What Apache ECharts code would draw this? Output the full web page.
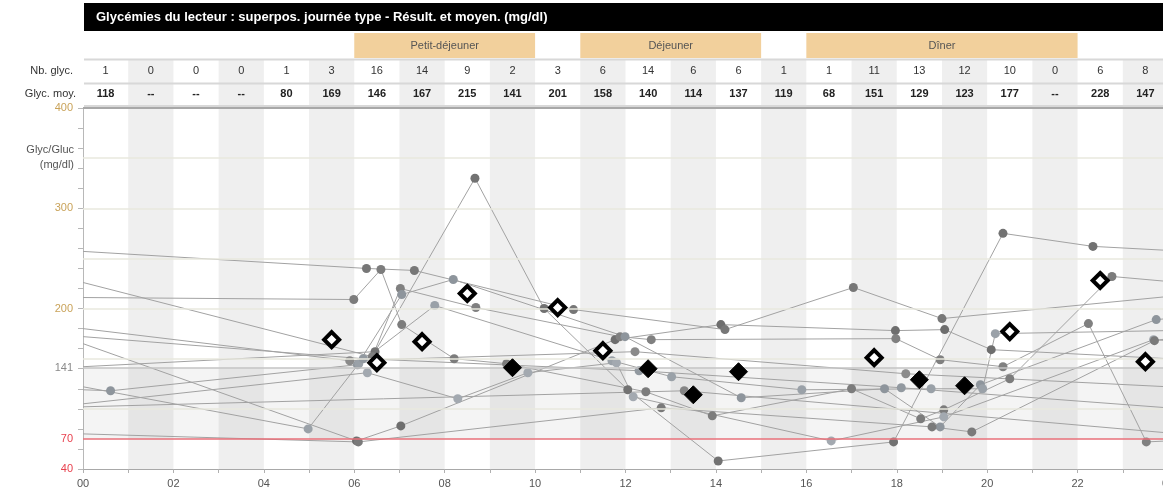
<!DOCTYPE html>
<html>
<head>
<meta charset="utf-8">
<script src="https://cdn.jsdelivr.net/npm/echarts@6/dist/echarts.min.js"></script>
<style>
  html, body { margin: 0; padding: 0; background: #ffffff; overflow: hidden; }
  #chart { width: 1163px; height: 498px; }
</style>
</head>
<body>
<div id="chart"></div>
<script>
// ---- Hourly summary (one entry per hour 00..23) ----
const hours = [0,1,2,3,4,5,6,7,8,9,10,11,12,13,14,15,16,17,18,19,20,21,22,23];
const readingCounts = [1,0,0,0,1,3,16,14,9,2,3,6,14,6,6,1,1,11,13,12,10,0,6,8];
const hourlyMeans = [118,null,null,null,80,169,146,167,215,141,201,158,140,114,137,119,68,151,129,123,177,null,228,147];

// ---- Meal periods shown above the grid ----
const mealNames = ['Petit-déjeuner', 'Déjeuner', 'Dîner'];
const mealStart = [6, 11, 16];
const mealEnd = [10, 15, 22];

// ---- Axis labels / reference values ----
const yLabelValues = [40, 70, 141, 200, 300, 400];
const targetLow = 70;
const targetHigh = 141;
const guideValues = [100, 150, 200, 250, 300, 350];
const rowLabels = ['Nb. glyc.', 'Glyc. moy.'];
const titleText = 'Glycémies du lecteur : superpos. journée type - Résult. et moyen. (mg/dl)';

// ---- Daily traces [hour, mg/dl]; first and last entries are the midnight joins ----
const day01 = [[0,165],[6.05,68],[7.03,83],[11.77,169],[14.11,184],[17.97,178],[19.06,179],[20.09,159],[24,150]];
const day02 = [[0,257],[6.27,240],[7.33,238],[10.85,199],[14.2,179],[17.04,221],[19.0,190],[24,212]];
const day03 = [[0,142],[6.46,157],[8.67,330],[10.2,200],[12.05,119],[14.05,48],[17.93,67],[20.35,275],[22.34,262],[24,258]];
const day04 = [[0,211],[5.99,209],[6.59,239],[7.05,184],[8.21,150],[9.37,145],[12.45,117],[13.92,93],[17.0,120],[18.53,90],[19.04,99],[20.5,130],[22.76,232],[24,227]];
const day05 = [[0,226],[6.4,152],[7.02,220],[8.69,201],[11.88,172],[12.57,169],[17.98,170],[18.96,149],[20.35,142],[22.24,185],[23.52,67],[24,68]];
const day06 = [[0,119],[0.61,118],[6.07,144],[7.05,214],[8.19,229],[11.99,172],[14.56,111],[17.73,120],[18.96,82],[19.85,124],[23.74,189],[24,190]];
const day07 = [[0,122],[4.98,80],[6.1,145],[7.78,203],[11.7,148],[13.02,132],[15.9,119],[18.76,120],[19.9,120],[20.18,175],[24,178]];
const day08 = [[0,105],[6.29,136],[8.29,110],[9.84,136],[11.8,146],[12.17,112],[16.55,68],[19.04,92],[23.68,169],[24,168]];
const day09 = [[0,75],[6.09,67],[12.79,101],[18.78,82],[19.66,77],[23.7,168],[24,170]];
const day10 = [[0,180],[5.9,148],[12.21,157],[18.2,135],[24,122]];
const day11 = [[0,172],[6.2,150],[12.3,138],[18.1,121],[24,101]];
const day12 = [[0,102],[13.3,118],[24,76]];
const dayTraces = [day01, day02, day03, day04, day05, day06, day07, day08, day09, day10, day11, day12];
const pointColors = ['#6e6e6e','#777777','#727272','#7c7c7c','#808080','#8e959c','#9aa1a8','#a3a9b0','#7a7a7a','#8a8a8a','#9299a0','#858585'];

const FONT = '"Liberation Sans", Arial, sans-serif';
const pad2 = v => (v < 10 ? '0' : '') + v;

const chart = echarts.init(document.getElementById('chart'), null, { renderer: 'canvas' });

// Header rows geometry (pixels)
const MEAL_TOP = 33, MEAL_H = 25;
const BAND_TOP = 60;
const COUNT_Y = 71, MEAN_Y = 94;

// Tick positions along the glucose axis, every 20 mg/dl
const yTickValues = [];
for (let v = 40; v <= 400; v += 20) yTickValues.push(v);

function labelKey(v) {
  if (v <= targetLow) return 'r';
  if (v === targetHigh) return 'g';
  return 'y';
}

const traceSeries = dayTraces.map((trace, i) => ({
  type: 'line',
  name: 'day' + (i + 1),
  silent: true,
  z: 3,
  symbol: 'circle',
  symbolSize: 9,
  data: trace.map(p => (p[0] === 0 || p[0] === 24)
    ? { value: p, symbol: 'none' }
    : { value: p }),
  lineStyle: { color: '#a2a2a2', width: 1 },
  itemStyle: { color: pointColors[i % pointColors.length], opacity: 1 },
  animation: false
}));

const openMeans = [], filledMeans = [];
hours.forEach(h => {
  if (readingCounts[h] >= 2 && hourlyMeans[h] != null) {
    const pt = [h + 0.5, hourlyMeans[h]];
    if (hourlyMeans[h] <= targetHigh) filledMeans.push(pt); else openMeans.push(pt);
  }
});

const option = {
  animation: false,
  backgroundColor: '#ffffff',
  // the 24:00 end of the day sits just past the right edge of the canvas
  grid: { left: 83, top: 108, width: 1085, height: 361, containLabel: false, outerBoundsMode: 'none' },
  xAxis: {
    type: 'value', min: 0, max: 24, interval: 1,
    axisLine: { show: true, lineStyle: { color: '#a8a8a8', width: 1 } },
    axisTick: { show: true, length: 4, lineStyle: { color: '#b0b0b0' } },
    axisLabel: {
      color: '#555', fontSize: 11, fontFamily: FONT, margin: 9, hideOverlap: false,
      showMaxLabel: true, showMinLabel: true,
      formatter: v => (v % 2 === 0 ? pad2(v % 24) : '')
    },
    splitLine: { show: false }
  },
  yAxis: {
    type: 'value', min: 40, max: 400,
    axisLine: { show: true, lineStyle: { color: '#b8b8b8', width: 1 } },
    axisTick: { show: true, length: 5, customValues: yTickValues, lineStyle: { color: '#b8b8b8' } },
    axisLabel: {
      customValues: yLabelValues, margin: 10, fontSize: 11, fontFamily: FONT,
      formatter: v => '{' + labelKey(v) + '|' + v + '}',
      rich: {
        r: { color: '#e8414e', fontSize: 11, fontFamily: FONT },
        g: { color: '#8a8a8a', fontSize: 11, fontFamily: FONT },
        y: { color: '#c9a35a', fontSize: 11, fontFamily: FONT }
      }
    },
    splitLine: { show: false }
  },
  graphic: [
    { type: 'rect', z: 20, shape: { x: 84, y: 3, width: 1163 - 84, height: 28 }, style: { fill: '#000000' } },
    { type: 'text', z: 21, x: 96, y: 17, style: { text: titleText, fill: '#ffffff', font: 'bold 13px ' + FONT, verticalAlign: 'middle' } },
    { type: 'text', z: 21, x: 73, y: COUNT_Y, style: { text: rowLabels[0], fill: '#333', font: '11px ' + FONT, align: 'right', verticalAlign: 'middle' } },
    { type: 'text', z: 21, x: 76, y: MEAN_Y, style: { text: rowLabels[1], fill: '#333', font: '11px ' + FONT, align: 'right', verticalAlign: 'middle' } },
    { type: 'text', z: 21, x: 74, y: 150, style: { text: 'Glyc/Gluc', fill: '#555', font: '11px ' + FONT, align: 'right', verticalAlign: 'middle' } },
    { type: 'text', z: 21, x: 74, y: 165, style: { text: '(mg/dl)', fill: '#555', font: '11px ' + FONT, align: 'right', verticalAlign: 'middle' } },
    { type: 'rect', z: 20, shape: { x: 84, y: 58.5, width: 1163 - 84, height: 2 }, style: { fill: '#d8d8d8' } },
    { type: 'rect', z: 20, shape: { x: 84, y: 82.5, width: 1163 - 84, height: 2 }, style: { fill: '#d8d8d8' } },
    { type: 'rect', z: 20, shape: { x: 84, y: 105, width: 1163 - 84, height: 2 }, style: { fill: '#d8d8d8' } }
  ],
  series: [
    // alternating hour columns (odd hours shaded), running up through the header rows
    {
      type: 'custom', name: 'columns', z: 0, silent: true, clip: false,
      data: hours.filter(h => h % 2 === 1).map(h => [h, 400]),
      renderItem: (params, api) => {
        const h = api.value(0);
        const x0 = api.coord([h, 400])[0];
        const x1 = api.coord([h + 1, 400])[0];
        const yb = api.coord([0, 40])[1];
        return { type: 'rect', shape: { x: x0, y: BAND_TOP, width: x1 - x0, height: yb - BAND_TOP }, style: { fill: '#efefef' } };
      }
    },
    // reference lines and target range
    {
      type: 'line', name: 'refs', z: 1, silent: true, data: [], symbol: 'none',
      markArea: {
        silent: true,
        itemStyle: { color: 'rgba(120,120,120,0.08)' },
        data: [[{ yAxis: targetLow }, { yAxis: targetHigh }]]
      },
      markLine: {
        silent: true, symbol: 'none', label: { show: false },
        data: guideValues.map(v => ({ yAxis: v, lineStyle: { color: '#e9e9de', width: 1.5, type: 'solid' } }))
          .concat([
            { yAxis: targetHigh, lineStyle: { color: '#c4c4c4', width: 1.5, type: 'solid' } },
            { yAxis: targetLow, lineStyle: { color: '#e8707a', width: 1.5, type: 'solid' } },
            { yAxis: 400, lineStyle: { color: '#a8a8a8', width: 2, type: 'solid' } }
          ])
      }
    },
    // meal periods
    {
      type: 'custom', name: 'meals', z: 20, silent: true, clip: false,
      data: mealNames.map((n, i) => [mealStart[i], mealEnd[i]]),
      renderItem: (params, api) => {
        const i = params.dataIndex;
        const x0 = api.coord([mealStart[i], 400])[0];
        const x1 = api.coord([mealEnd[i], 400])[0];
        return {
          type: 'group',
          children: [
            { type: 'rect', shape: { x: x0, y: MEAL_TOP, width: x1 - x0, height: MEAL_H }, style: { fill: '#f2d09c' } },
            { type: 'text', x: (x0 + x1) / 2, y: MEAL_TOP + MEAL_H / 2,
              style: { text: mealNames[i], fill: '#555', fontSize: 11, fontFamily: FONT, align: 'center', verticalAlign: 'middle' } }
          ]
        };
      }
    },
    // hourly count / mean table
    {
      type: 'custom', name: 'table', z: 21, silent: true, clip: false,
      data: hours.map(h => [h, 400]),
      renderItem: (params, api) => {
        const h = api.value(0);
        const xc = api.coord([h + 0.5, 400])[0];
        const m = hourlyMeans[h];
        return {
          type: 'group',
          children: [
            { type: 'text', x: xc, y: COUNT_Y,
              style: { text: String(readingCounts[h]), fill: '#333', fontSize: 11, fontFamily: FONT, align: 'center', verticalAlign: 'middle' } },
            { type: 'text', x: xc, y: MEAN_Y,
              style: { text: m == null ? '--' : String(m), fill: '#222', fontSize: 11, fontWeight: 'bold', fontFamily: FONT, align: 'center', verticalAlign: 'middle' } }
          ]
        };
      }
    }
  ].concat(traceSeries).concat([
    {
      type: 'scatter', name: 'mean-high', z: 6, silent: true,
      symbol: 'diamond', symbolSize: 15,
      data: openMeans,
      itemStyle: { color: '#ffffff', borderColor: '#000000', borderWidth: 4, opacity: 1 }
    },
    {
      type: 'scatter', name: 'mean-in-range', z: 6, silent: true,
      symbol: 'diamond', symbolSize: 18,
      data: filledMeans,
      itemStyle: { color: '#000000', borderColor: '#000000', borderWidth: 1, opacity: 1 }
    }
  ])
};

chart.setOption(option);
</script>
</body>
</html>
